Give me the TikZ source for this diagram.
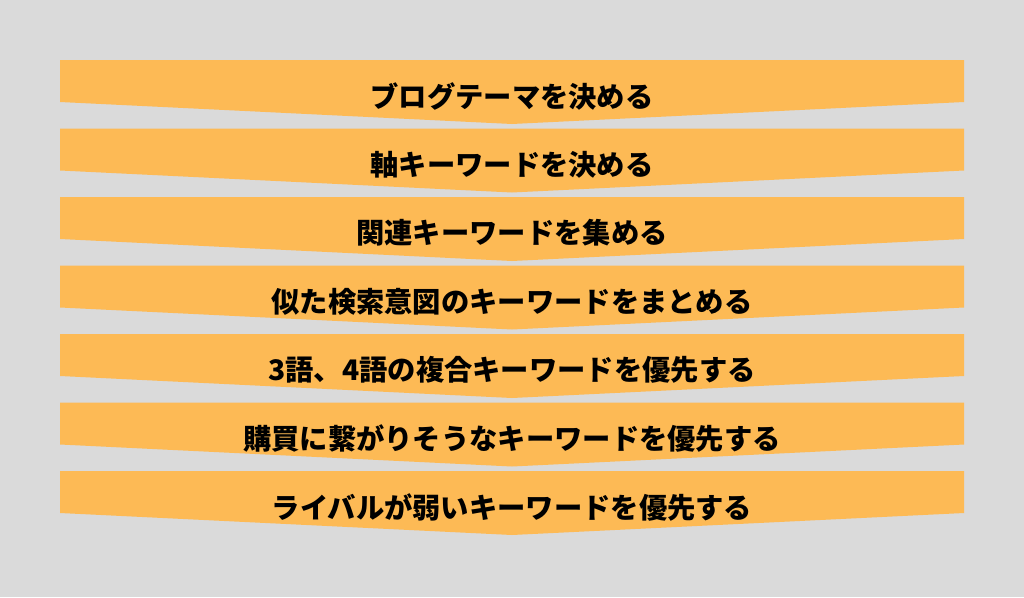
\documentclass[tikz,border=0pt]{standalone}
\usepackage{fontspec}
\newfontfamily\cjk{Noto Sans CJK JP}[BoldFont={Noto Sans CJK JP Black}]
\definecolor{bgc}{RGB}{218,218,218}
\definecolor{bann}{RGB}{253,186,85}
\tikzset{
  banner/.style={fill=bann, draw=none},
  label/.style={font=\cjk\bfseries\fontsize{28.3pt}{31pt}\selectfont, text=black, inner sep=0pt, anchor=center}
}
\begin{document}
\begin{tikzpicture}[x=1pt,y=-1pt]
\fill[bgc] (0,0) rectangle (1024,597);
\useasboundingbox (0,0) rectangle (1024,597);
\foreach \i/\t in {0/ブログテーマを決める,1/軸キーワードを決める,2/関連キーワードを集める,3/似た検索意図のキーワードをまとめる,4/3語、4語の複合キーワードを優先する,5/購買に繋がりそうなキーワードを優先する,6/ライバルが弱いキーワードを優先する}{
  \pgfmathsetmacro{\top}{60+68.5*\i}
  \fill[banner] (60,\top) -- (964,\top) -- (964,\top+42) -- (512,\top+64) -- (60,\top+42) -- cycle;
  \node[label] (t\i) at (512,\top+36) {\t};
}
\end{tikzpicture}
\end{document}
